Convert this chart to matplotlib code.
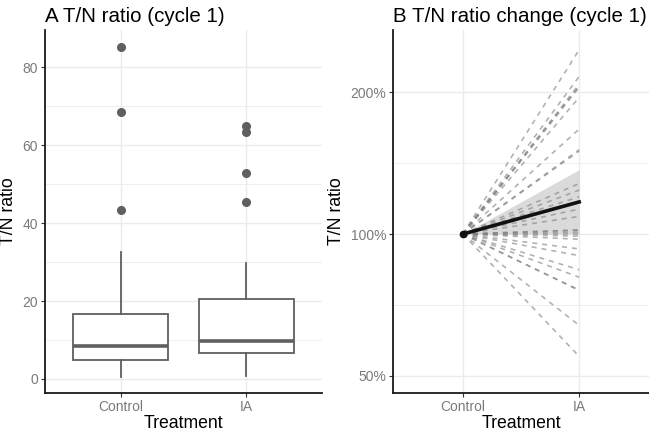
import numpy as np
import matplotlib.pyplot as plt
from matplotlib.ticker import FixedLocator, FixedFormatter, NullFormatter

plt.rcParams['font.family'] = ['Liberation Sans', 'DejaVu Sans']

# ---- data ----
groups = ['Control', 'IA']

# box statistics
box_whislo = [0.6, 0.7]
box_q1 = [4.9, 6.7]
box_med = [8.5, 9.7]
box_q3 = [16.7, 20.5]
box_whishi = [32.6, 29.8]
box_fliers = [[85.2, 68.5, 43.5], [64.9, 63.4, 53.0, 45.5]]

# relative change IA vs Control, one value per subject (Control = 1)
ia_change = [2.46, 2.16, 2.08, 2.06, 2.05, 1.95, 1.67, 1.51, 1.50,
             1.28, 1.24, 1.20, 1.13, 1.09, 1.02, 1.02, 1.01, 1.0,
             0.99, 0.975, 0.93, 0.90, 0.84, 0.81, 0.76, 0.76, 0.64, 0.55]
mean_change = [1.0, 1.17]
ci_low = [1.0, 1.0]
ci_high = [1.0, 1.37]

grid_col = '#ebebeb'
text_col = '#7a7a7a'
box_col = '#5f5f5f'

fig = plt.figure(figsize=(6.49, 4.33), dpi=100)
W, H = 649, 433
axA = fig.add_axes([45 / W, 1 - 393 / H, (322 - 45) / W, (393 - 30) / H])
axB = fig.add_axes([393 / W, 1 - 393 / H, (649 - 393) / W, (393 - 30) / H])


def style(ax):
    ax.set_facecolor('white')
    for s in ['top', 'right']:
        ax.spines[s].set_visible(False)
    for s in ['left', 'bottom']:
        ax.spines[s].set_color('#1a1a1a')
        ax.spines[s].set_linewidth(1.3)
    ax.tick_params(which='major', length=3, width=0.8, color='#333333',
                   labelcolor=text_col, labelsize=10, pad=2)
    ax.tick_params(which='minor', length=0)
    ax.grid(True, which='major', color=grid_col, lw=1.0)
    ax.grid(True, which='minor', axis='y', color=grid_col, lw=0.6)
    ax.set_axisbelow(True)
    ax.set_xticks([1, 2])
    ax.set_xticklabels(groups)
    ax.set_xlim(0.4, 2.6)
    ax.set_xlabel('Treatment', fontsize=12.7, labelpad=1)
    ax.set_ylabel('T/N ratio', fontsize=12.7, labelpad=4)


# ---- panel A ----
stats = []
for i in range(len(groups)):
    stats.append(dict(whislo=box_whislo[i], q1=box_q1[i], med=box_med[i],
                      q3=box_q3[i], whishi=box_whishi[i], fliers=box_fliers[i]))
axA.bxp(stats, positions=[1, 2], widths=0.75, patch_artist=True, showcaps=False,
        boxprops=dict(facecolor='white', edgecolor=box_col, lw=1.3),
        whiskerprops=dict(color=box_col, lw=1.3),
        medianprops=dict(color=box_col, lw=2.6),
        flierprops=dict(marker='o', markerfacecolor=box_col, markeredgecolor=box_col,
                        markersize=5.5))
style(axA)
axA.set_ylim(-3.6, 89.6)
axA.set_yticks([0, 20, 40, 60, 80])
axA.yaxis.set_minor_locator(FixedLocator([10, 30, 50, 70]))
axA.set_title('A T/N ratio (cycle 1)', loc='left', fontsize=14.8, pad=6)

# ---- panel B ----
for v in ia_change:
    axB.plot([1, 2], [1.0, v], ls=(0, (3, 3)), color='#808080', lw=1.2, alpha=0.6)
axB.fill_between([1, 2], ci_low, ci_high, color='#bdbdbd', alpha=0.55, lw=0)
axB.plot([1, 2], mean_change, color='#111111', lw=2.6)
axB.plot([1], mean_change[:1], 'o', color='#111111', markersize=4.5)
axB.set_yscale('log', base=2)
style(axB)
axB.set_ylim(0.46, 2.71)
axB.yaxis.set_major_locator(FixedLocator([0.5, 1, 2]))
axB.yaxis.set_major_formatter(FixedFormatter(['50%', '100%', '200%']))
axB.yaxis.set_minor_locator(FixedLocator([2 ** -0.5, 2 ** 0.5]))
axB.yaxis.set_minor_formatter(NullFormatter())
axB.set_title('B T/N ratio change (cycle 1)', loc='left', fontsize=14.8, pad=6)

fig.savefig('out.png', dpi=100)
